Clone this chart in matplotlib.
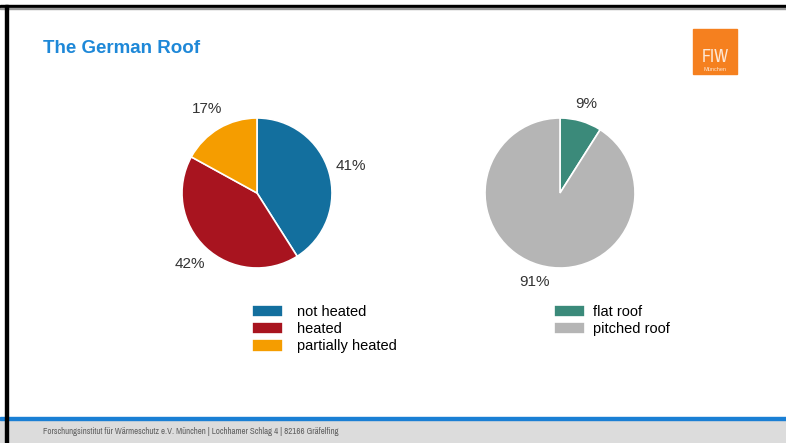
import matplotlib
matplotlib.use("Agg")
import matplotlib.pyplot as plt
from matplotlib.patches import Rectangle

W, H = 786, 443
DPI = 100

heat_labels = ["not heated", "heated", "partially heated"]
heat_values = [41, 42, 17]
heat_colors = ["#136f9e", "#a8141f", "#f59d00"]

roof_labels = ["flat roof", "pitched roof"]
roof_values = [9, 91]
roof_colors = ["#3b8a7a", "#b5b5b5"]

title = "The German Roof"
footer = "Forschungsinstitut für Wärmeschutz e.V. München | Lochhamer Schlag 4 | 82166 Gräfelfing"

plt.rcParams['font.family'] = ['Liberation Sans', 'DejaVu Sans']
NARROW = ['Liberation Sans Narrow', 'Archivo Narrow', 'Liberation Sans']

fig = plt.figure(figsize=(W / DPI, H / DPI), dpi=DPI)
fig.patch.set_facecolor("white")


def px_box(x0, y0, w, h):
    # pixel box (top-left origin) -> figure fraction rect
    return [x0 / W, 1 - (y0 + h) / H, w / W, h / H]


# slide frame, footer band
bg = fig.add_axes([0, 0, 1, 1])
bg.set_xlim(0, W)
bg.set_ylim(H, 0)
bg.axis("off")
bg.add_patch(Rectangle((0, 419.5), W, H - 419.5, color="#dcdcdc", zorder=1))
bg.add_patch(Rectangle((0, 416.5), W, 3.2, color="#1a7fd4", zorder=2))
bg.add_patch(Rectangle((0, 5), W, 2.5, color="#000000", zorder=3))
bg.add_patch(Rectangle((0, 7.5), W, 1.2, color="#9a9a9a", zorder=3))
bg.add_patch(Rectangle((5, 5), 2.5, H, color="#000000", zorder=3))
bg.text(43, 53, title, color="#1e88d8", fontsize=13.5, fontweight="bold",
        va="baseline", ha="left")
bg.text(43, 434, footer, color="#606060", fontsize=6.4,
        family=NARROW, va="baseline")

# logo
bg.add_patch(Rectangle((693, 29), 44, 45, color="#f5801f", zorder=2))
bg.text(715, 62, "FIW", color="#fde7d4", fontsize=13, ha="center",
        va="baseline", zorder=3, family=NARROW)
bg.text(715, 71, "München", color="#fde7d4", fontsize=4, ha="center",
        va="baseline", zorder=3)

R = 75


def draw_pie(cx, cy, values, colors, pctd):
    ax = fig.add_axes(px_box(cx - R, cy - R, 2 * R, 2 * R))
    wedges, _, autotexts = ax.pie(
        values, colors=colors, startangle=90, counterclock=False,
        autopct="%d%%", pctdistance=pctd,
        wedgeprops=dict(edgecolor="white", linewidth=1.2),
        textprops=dict(fontsize=11, color="#333333"))
    ax.set_xlim(-1, 1)
    ax.set_ylim(-1, 1)
    ax.set_aspect("equal")
    for t in autotexts:
        t.set_clip_on(False)
    return wedges


heat_wedges = draw_pie(257, 193, heat_values, heat_colors, 1.3)
roof_wedges = draw_pie(560, 193, roof_values, roof_colors, 1.24)

leg_kw = dict(frameon=False, fontsize=10.5, handlelength=2.1, handleheight=0.95,
              labelspacing=0.2, borderpad=0, borderaxespad=0, loc="upper left")
fig.legend(heat_wedges, heat_labels, bbox_to_anchor=(252 / W, 1 - 304.5 / H),
           handletextpad=1.0, **leg_kw)
fig.legend(roof_wedges, roof_labels, bbox_to_anchor=(554 / W, 1 - 304.5 / H),
           handletextpad=0.6, **leg_kw)

fig.savefig("out.png", dpi=DPI)
